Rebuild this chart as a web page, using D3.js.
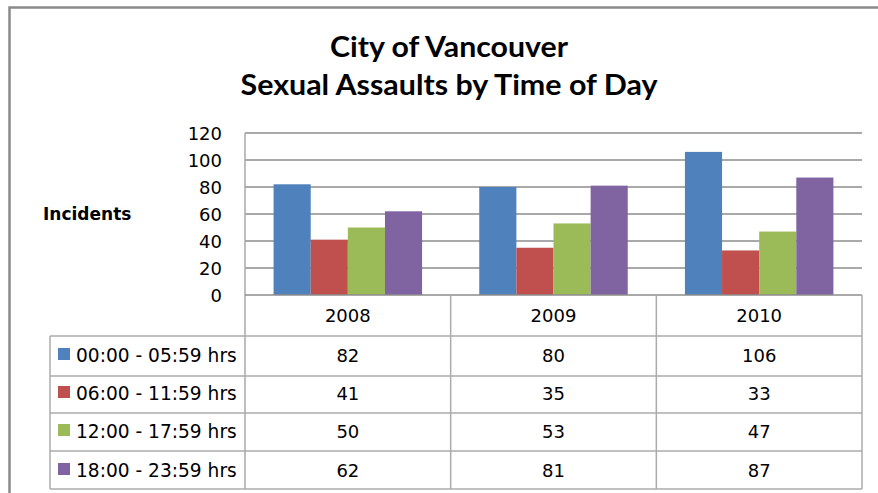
<!DOCTYPE html>
<html><head><meta charset="utf-8">
<script src="https://cdn.jsdelivr.net/npm/d3@7"></script>
<style>body{margin:0;background:#fff}svg{display:block}</style>
</head><body>
<script>
const years = ["2008", "2009", "2010"];
const seriesNames = ["00:00 - 05:59 hrs", "06:00 - 11:59 hrs", "12:00 - 17:59 hrs", "18:00 - 23:59 hrs"];
const s0000 = [82, 80, 106];
const s0600 = [41, 35, 33];
const s1200 = [50, 53, 47];
const s1800 = [62, 81, 87];
const yTicks = [0, 20, 40, 60, 80, 100, 120];
const colors = ["#4F81BD", "#C0504D", "#9BBB59", "#8064A2"];
const seriesValues = [s0000, s0600, s1200, s1800];

(function () {
const W = 878, H = 493;
const svg = d3.select("body").append("svg").attr("width", W).attr("height", H);
const font = "'DejaVu Sans', sans-serif";
const fs = 18;

// outer border
svg.append("path").attr("d", `M9.5,${H} V7.5 H${W}`).attr("fill", "none")
  .attr("stroke", "#8a8a8a").attr("stroke-width", 2.5);

// title
const title = svg.append("text").attr("text-anchor", "middle").attr("font-family", "Lato, sans-serif")
  .attr("font-weight", "bold").attr("font-size", 28).attr("fill", "#000");
title.append("tspan").attr("x", 449).attr("y", 57).attr("textLength", 238)
  .attr("lengthAdjust", "spacingAndGlyphs").text("City of Vancouver");
title.append("tspan").attr("x", 449).attr("y", 95).attr("textLength", 417)
  .attr("lengthAdjust", "spacingAndGlyphs").text("Sexual Assaults by Time of Day");

const pl = 245, pr = 862, pt = 133, pb = 295;
const x = d3.scaleBand().domain(years).range([pl, pr]);
const y = d3.scaleLinear().domain([0, 120]).range([pb, pt]);
const inner = d3.scaleBand().domain(d3.range(4)).range([0, x.bandwidth()]).paddingOuter(0.77);

// gridlines
svg.append("g").selectAll("line").data(yTicks.filter(d => d > 0)).join("line")
  .attr("x1", pl).attr("x2", pr).attr("y1", d => y(d)).attr("y2", d => y(d))
  .attr("stroke", "#8c8c8c").attr("stroke-width", 1.3);

// y axis
const yAxis = svg.append("g").attr("transform", `translate(${pl},0)`)
  .call(d3.axisLeft(y).tickValues(yTicks).tickSize(0).tickPadding(23));
yAxis.select(".domain").remove();
yAxis.selectAll("text").attr("font-family", font).attr("font-size", fs).attr("fill", "#000")
  .attr("dy", "0.36em");

// bars
seriesValues.forEach((vals, si) => {
  svg.append("g").selectAll("rect").data(vals).join("rect")
    .attr("x", (d, i) => x(years[i]) + inner(si))
    .attr("width", inner.bandwidth())
    .attr("y", d => y(d)).attr("height", d => y(0) - y(d))
    .attr("fill", colors[si]);
});

// left vertical axis line
svg.append("line").attr("x1", pl).attr("x2", pl).attr("y1", pt).attr("y2", 489)
  .attr("stroke", "#a8a8a8").attr("stroke-width", 1.5);
// zero line
svg.append("line").attr("x1", pl).attr("x2", pr).attr("y1", pb).attr("y2", pb)
  .attr("stroke", "#8c8c8c").attr("stroke-width", 1.5);

// Incidents label
svg.append("text").attr("x", 43).attr("y", 220).attr("font-family", font).attr("font-weight", "bold")
  .attr("font-size", 17).attr("fill", "#000").text("Incidents");

// data table
const rowEdges = [295, 336, 376, 413, 451, 489];
const tableLeft = 50;
const tbl = svg.append("g");
const lineCol = "#ababab";
rowEdges.slice(1).forEach(yy => {
  tbl.append("line").attr("x1", tableLeft).attr("x2", pr).attr("y1", yy).attr("y2", yy)
    .attr("stroke", lineCol).attr("stroke-width", 1.5);
});
tbl.append("line").attr("x1", tableLeft).attr("x2", tableLeft).attr("y1", 336).attr("y2", 489)
  .attr("stroke", lineCol).attr("stroke-width", 1.5);
years.forEach(yr => {
  const xr = x(yr) + x.bandwidth();
  tbl.append("line").attr("x1", xr).attr("x2", xr).attr("y1", 295).attr("y2", 489)
    .attr("stroke", lineCol).attr("stroke-width", 1.5);
});
tbl.selectAll("text.hdr").data(years).join("text").attr("class", "hdr")
  .attr("x", d => x(d) + x.bandwidth() / 2).attr("y", 322).attr("text-anchor", "middle")
  .attr("font-family", font).attr("font-size", fs).attr("fill", "#000").text(d => d);
const rowBase = [362, 400, 438, 477];
seriesNames.forEach((name, si) => {
  const ry = rowBase[si];
  tbl.append("rect").attr("x", 58).attr("y", ry - 14).attr("width", 12).attr("height", 12)
    .attr("fill", colors[si]);
  tbl.append("text").attr("x", 76).attr("y", ry).attr("font-family", font).attr("font-size", 18.6)
    .attr("fill", "#000").text(name);
  tbl.selectAll(null).data(seriesValues[si]).join("text")
    .attr("x", (d, i) => x(years[i]) + x.bandwidth() / 2).attr("y", ry).attr("text-anchor", "middle")
    .attr("font-family", font).attr("font-size", fs).attr("fill", "#000").text(d => d);
});
})();
</script>
</body></html>
